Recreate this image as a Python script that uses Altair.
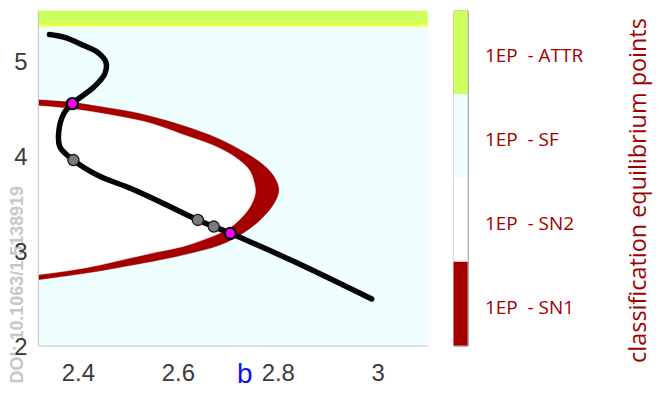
import altair as alt
import pandas as pd

# ---------------- data ----------------
B_DOMAIN = [2.32, 3.1]
Y_DOMAIN = [2.0, 5.52]
B_TICKS = [2.4, 2.6, 2.8, 3.0]
Y_TICKS = [2, 3, 4, 5]

# SN1 region (dark red band): outer boundary
outer_b = [2.320, 2.386, 2.446, 2.506, 2.545, 2.611, 2.679, 2.731, 2.769, 2.793, 2.802,
           2.793, 2.767, 2.731, 2.685, 2.611, 2.565, 2.506, 2.446, 2.386, 2.320]
outer_y = [4.582, 4.556, 4.509, 4.457, 4.410, 4.310, 4.179, 4.038, 3.907, 3.771, 3.634,
           3.498, 3.331, 3.184, 3.058, 2.953, 2.901, 2.843, 2.786, 2.739, 2.692]

# SN2 region (white, inside the band): inner boundary
inner_b = [2.320, 2.386, 2.446, 2.506, 2.545, 2.611, 2.679, 2.719, 2.743, 2.753, 2.755,
           2.745, 2.725, 2.699, 2.651, 2.611, 2.565, 2.506, 2.446, 2.386, 2.320]
inner_y = [4.520, 4.488, 4.441, 4.383, 4.336, 4.216, 4.085, 3.964, 3.844, 3.708, 3.598,
           3.462, 3.331, 3.221, 3.111, 3.042, 2.990, 2.922, 2.849, 2.791, 2.744]

# black curve
curve_b = [2.343, 2.372, 2.412, 2.439, 2.456, 2.454, 2.432, 2.389, 2.372, 2.362,
           2.364, 2.391, 2.439, 2.506, 2.565, 2.640, 2.672, 2.705, 2.825, 2.988]
curve_y = [5.269, 5.240, 5.153, 5.083, 4.978, 4.857, 4.717, 4.543, 4.438, 4.263,
           4.088, 3.949, 3.791, 3.650, 3.509, 3.320, 3.250, 3.179, 2.901, 2.489]

magenta_b = [2.389, 2.705]
magenta_y = [4.543, 3.179]
grey_b = [2.391, 2.640, 2.672]
grey_y = [3.949, 3.320, 3.250]

# ATTR strip at the top
attr_y = [5.372, 5.52]
attr_edge = 5.366

classes = ["1EP\u00a0 - ATTR", "1EP\u00a0 - SF", "1EP\u00a0 - SN2", "1EP\u00a0 - SN1"]
class_colors = ["#CFFF5F", "#EFFFFF", "#FFFFFF", "#A50000"]

WATERMARK = "DOI: 10.1063/1.5138919"

RED = "#A50000"
DARKRED = "#A00000"

# ---------------- main panel ----------------
xs = alt.Scale(domain=B_DOMAIN, nice=False, zero=False)
ys = alt.Scale(domain=Y_DOMAIN, nice=False, zero=False)

x_axis = alt.Axis(values=B_TICKS, format="~g", title="b", labelFont="Liberation Sans",
                  labelFontSize=24, labelColor="#3a3a3a", labelPadding=16, labelFlush=False,
                  ticks=False, tickSize=0, domainColor="#c4c4c4", grid=False,
                  titleFont="Liberation Sans", titleFontSize=28, titleFontWeight="normal",
                  titleColor="#1010F0", titleX=207, titleY=37, titleBaseline="alphabetic",
                  titleAlign="center", zindex=1)
y_axis = alt.Axis(values=Y_TICKS, format="~g", title=None, labelFont="Liberation Sans",
                  labelFontSize=24, labelColor="#3a3a3a", labelPadding=11, labelFlush=False,
                  labelOffset=2, ticks=False, tickSize=0, domainColor="#c4c4c4", grid=False,
                  zindex=1)


def X(field):
    return alt.X(field, type="quantitative", scale=xs, axis=x_axis)


def Y(field):
    return alt.Y(field, type="quantitative", scale=ys, axis=y_axis)


outer_df = pd.DataFrame({"b": outer_b, "y": outer_y, "i": range(len(outer_b))})
inner_df = pd.DataFrame({"b": inner_b, "y": inner_y, "i": range(len(inner_b))})
curve_df = pd.DataFrame({"b": curve_b, "y": curve_y, "i": range(len(curve_b))})
mag_df = pd.DataFrame({"b": magenta_b, "y": magenta_y})
grey_df = pd.DataFrame({"b": grey_b, "y": grey_y})
attr_df = pd.DataFrame({"b": [B_DOMAIN[0]], "b2": [B_DOMAIN[1]],
                        "y": [attr_y[0]], "y2": [attr_y[1]], "e": [attr_edge]})
wm_df = pd.DataFrame({"t": [WATERMARK]})

red_band = alt.Chart(outer_df).mark_line(
    fill=RED, stroke=RED, strokeWidth=0.5, interpolate="catmull-rom", clip=True
).encode(x=X("b"), y=Y("y"), order=alt.Order("i:Q"))

white_inside = alt.Chart(inner_df).mark_line(
    fill="#FFFFFF", stroke="#FFFFFF", strokeWidth=0.5, interpolate="catmull-rom", clip=True
).encode(x=X("b"), y=Y("y"), order=alt.Order("i:Q"))

attr_rect = alt.Chart(attr_df).mark_rect(color="#CFFF5F").encode(
    x=X("b"), x2="b2", y=Y("y"), y2="y2")

attr_line = alt.Chart(attr_df).mark_rule(color="#F4FF3A", strokeWidth=2.5).encode(
    x=X("b"), x2="b2", y=Y("e"))

curve = alt.Chart(curve_df).mark_line(
    color="#050505", strokeWidth=5.5, strokeCap="round", strokeJoin="round",
    interpolate="catmull-rom"
).encode(x=X("b"), y=Y("y"), order=alt.Order("i:Q"))

grey_pts = alt.Chart(grey_df).mark_circle(
    color="#7a7a7a", stroke="#1a1a1a", strokeWidth=1.3, size=125, opacity=1
).encode(x=X("b"), y=Y("y"))

mag_pts = alt.Chart(mag_df).mark_circle(
    color="#FF00FF", stroke="#000000", strokeWidth=2.2, size=125, opacity=1
).encode(x=X("b"), y=Y("y"))

watermark = alt.Chart(wm_df).mark_text(
    angle=270, align="left", baseline="top", font="Liberation Sans", fontSize=18,
    fontWeight="bold", color="#c2c2c2", opacity=0.9
).encode(text="t:N", x=alt.value(-29), y=alt.value(374))

main = alt.layer(
    red_band, white_inside, attr_rect, attr_line, curve, grey_pts, mag_pts, watermark
).properties(width=391, height=336,
             view=alt.ViewBackground(fill="#EFFFFF", stroke="transparent"))

# ---------------- colour bar ----------------
cb_df = pd.DataFrame({"cls": classes, "col": class_colors})
colorbar = alt.Chart(cb_df).mark_rect().encode(
    y=alt.Y("cls:N", sort=classes,
            scale=alt.Scale(paddingInner=0, paddingOuter=0),
            axis=alt.Axis(orient="right", ticks=False, tickSize=0, domain=False,
                          labelFont="Open Sans", labelFontSize=19, labelColor=DARKRED,
                          labelPadding=17, labelOffset=4,
                          title="classification equilibrium points",
                          titleFont="Open Sans", titleFontSize=23.5,
                          titleFontWeight="normal", titleColor=DARKRED,
                          titleAngle=270, titleX=178, titleY=180,
                          titleBaseline="alphabetic", titleAlign="center")),
    color=alt.Color("cls:N", scale=alt.Scale(domain=classes, range=class_colors),
                    legend=None),
).properties(width=14, height=336,
             view=alt.ViewBackground(stroke="#6e6e6e", strokeWidth=1))

chart = alt.hconcat(main, colorbar, spacing=23).properties(
    padding={"left": 0, "top": 1, "right": 3, "bottom": -1}
).configure_view(stroke=None)

chart.save("out.html", embed_options={"renderer": "svg", "actions": False})
